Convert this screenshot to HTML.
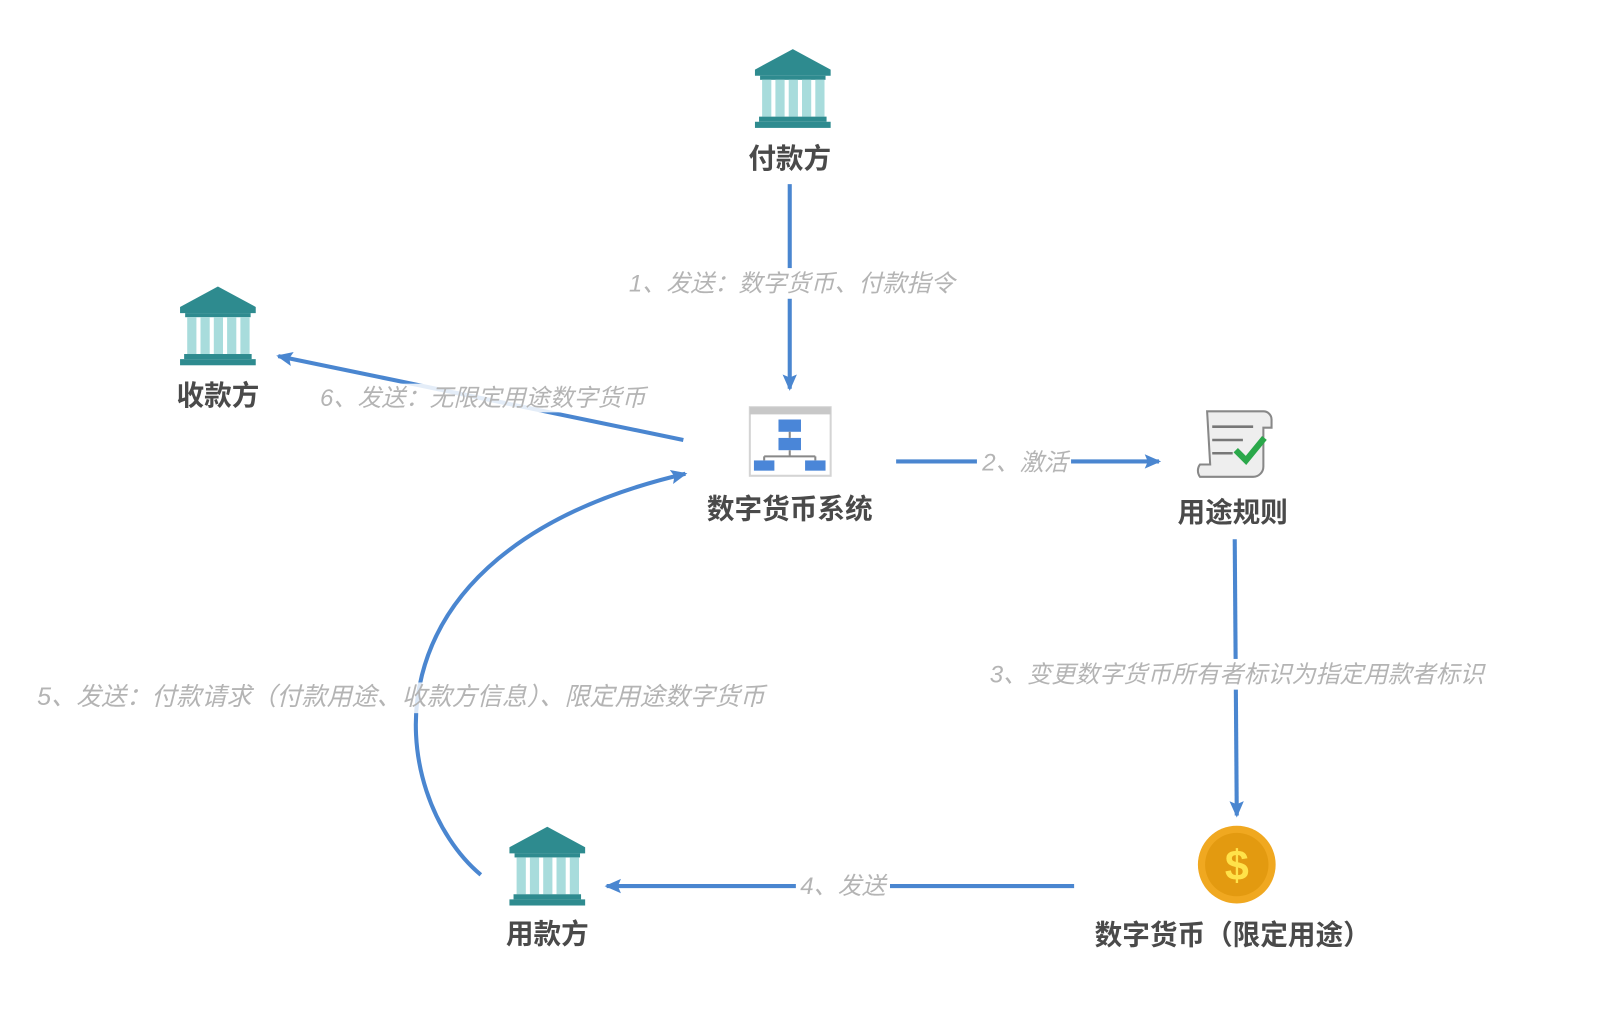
<!DOCTYPE html>
<html><head><meta charset="utf-8"><style>
html,body{margin:0;padding:0;background:#fff;}
svg{display:block}
.n{font-family:"Liberation Sans","Noto Sans CJK SC",sans-serif;font-size:27px;font-weight:bold;fill:#4a4a4a;text-anchor:middle}
.e{font-family:"Liberation Sans","Noto Sans CJK SC",sans-serif;font-size:23.5px;font-style:italic;fill:#b4b4b4;text-anchor:middle}
.l{stroke:#4a86d0;stroke-width:4;fill:none}
</style></head><body>
<svg width="1603" height="1015" viewBox="0 0 1567 992" preserveAspectRatio="none" xmlns="http://www.w3.org/2000/svg">
<defs>
<marker id="a" markerWidth="16" markerHeight="16" refX="14" refY="8" orient="auto" markerUnits="userSpaceOnUse" viewBox="0 0 16 16">
<path d="M0,1 L16,8 L0,15 L3,8 z" fill="#4a86d0"/></marker>
<g id="bank">
<path d="M0,20 L37,0 L74,20 L74,26 L0,26 z" fill="#2e8b8f"/>
<rect x="5" y="26" width="64" height="4" fill="#2e8b8f"/>
<rect x="7" y="30" width="9" height="36" fill="#a8dcdc"/>
<rect x="20" y="30" width="9" height="36" fill="#a8dcdc"/>
<rect x="33" y="30" width="9" height="36" fill="#a8dcdc"/>
<rect x="46" y="30" width="9" height="36" fill="#a8dcdc"/>
<rect x="59" y="30" width="9" height="36" fill="#a8dcdc"/>
<rect x="4" y="66" width="66" height="5" fill="#2e8b8f"/>
<rect x="0" y="71" width="74" height="6" fill="#2e8b8f"/>
</g>
</defs>
<line class="l" x1="772" y1="180" x2="772" y2="380" marker-end="url(#a)"/>
<line class="l" x1="668" y1="430" x2="272" y2="348" marker-end="url(#a)"/>
<line class="l" x1="876" y1="451" x2="1133" y2="451" marker-end="url(#a)"/>
<line class="l" x1="1207" y1="527" x2="1209" y2="797" marker-end="url(#a)"/>
<line class="l" x1="1050" y1="866" x2="593" y2="866" marker-end="url(#a)"/>
<path class="l" d="M470,855 C380,780 340,540 670,463" marker-end="url(#a)"/>
<rect x="605" y="262" width="335" height="30" fill="#fff"/>
<text class="e" x="774" y="285">1、发送：数字货币、付款指令</text>
<rect x="305" y="375" width="335" height="28" fill="#fff" opacity="0.85"/>
<text class="e" x="472" y="397">6、发送：无限定用途数字货币</text>
<rect x="955" y="438" width="92" height="28" fill="#fff"/>
<text class="e" x="1002" y="460">2、激活</text>
<rect x="955" y="644" width="505" height="30" fill="#fff"/>
<text class="e" x="1209" y="667">3、变更数字货币所有者标识为指定用款者标识</text>
<rect x="778" y="852" width="92" height="28" fill="#fff"/>
<text class="e" x="824" y="874">4、发送</text>
<rect x="30" y="667" width="720" height="30" fill="#fff" opacity="0.8"/>
<text class="e" x="392" y="689" style="font-size:24.5px">5、发送：付款请求（付款用途、收款方信息）、限定用途数字货币</text>
<use href="#bank" x="738" y="48"/>
<text class="n" x="772" y="164">付款方</text>
<use href="#bank" x="176" y="280"/>
<text class="n" x="213" y="396">收款方</text>
<use href="#bank" x="498" y="808"/>
<text class="n" x="535" y="922">用款方</text>
<rect x="733" y="398" width="79" height="67" fill="#fff" stroke="#d4d4d4" stroke-width="2"/>
<rect x="733" y="398" width="79" height="7" fill="#c8c8c8"/>
<rect x="761" y="410" width="22" height="12" fill="#4a86d8"/>
<rect x="761" y="428" width="22" height="12" fill="#4a86d8"/>
<path d="M772,422 v6 M772,440 v6 M747,446 h50 M747,446 v4 M797,446 v4" stroke="#888" stroke-width="2" fill="none"/>
<rect x="737" y="450" width="20" height="10" fill="#4a86d8"/>
<rect x="787" y="450" width="20" height="10" fill="#4a86d8"/>
<text class="n" x="772" y="507">数字货币系统</text>
<path d="M1180,402 h55 a8,8 0 0 1 8,8 v8 h-8 v38 a10,10 0 0 1 -10,10 h-52 a10,10 0 0 1 0,-12 h10 z" fill="#eee" stroke="#888" stroke-width="2"/>
<path d="M1185,417 h40 M1185,430 h30 M1185,443 h20" stroke="#777" stroke-width="2.5"/>
<path d="M1208,440 l10,10 l18,-22" stroke="#2aa84a" stroke-width="6" fill="none"/>
<text class="n" x="1205" y="510">用途规则</text>
<circle cx="1209" cy="845" r="38" fill="#f0a820"/>
<circle cx="1209" cy="845" r="31" fill="#e39a10"/>
<text x="1209" y="860" text-anchor="middle" font-family="Liberation Sans,sans-serif" font-size="42" font-weight="bold" fill="#ffe24a">$</text>
<text class="n" x="1205" y="923">数字货币（限定用途）</text>
</svg>
</body></html>
